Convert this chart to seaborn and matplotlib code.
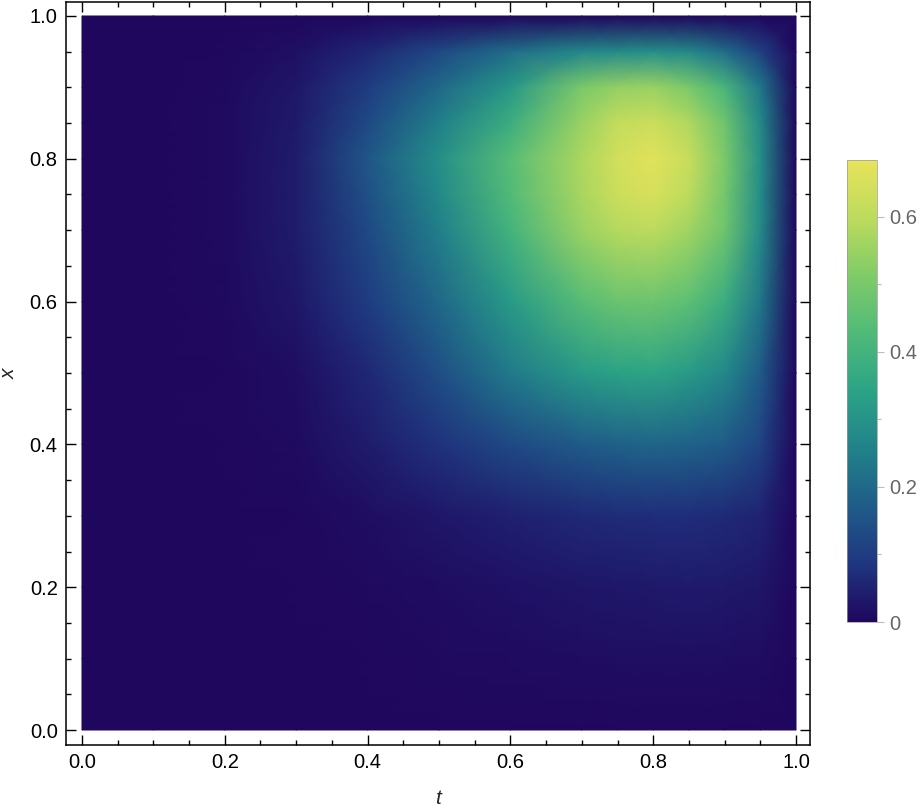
import matplotlib
matplotlib.use("Agg")
import matplotlib.pyplot as plt
import numpy as np
import seaborn as sns
from matplotlib.ticker import MultipleLocator, FixedLocator

t_vals = [0.0, 0.1, 0.2, 0.3, 0.4, 0.5, 0.6, 0.7, 0.75, 0.8, 0.85, 0.9, 0.95, 1.0]
x_vals = [0.0, 0.1, 0.2, 0.3, 0.4, 0.5, 0.6, 0.7, 0.75, 0.8, 0.85, 0.9, 0.95, 1.0]

# one row per x value, columns follow t_vals
u_x000 = [0, 0, 0, 0, 0, 0, 0, 0, 0, 0, 0, 0, 0, 0]
u_x010 = [0, 0, 0, 0.001, 0.003, 0.006, 0.010, 0.013, 0.014, 0.015, 0.015, 0.014, 0.012, 0]
u_x020 = [0, 0, 0.001, 0.003, 0.006, 0.012, 0.020, 0.028, 0.031, 0.034, 0.035, 0.034, 0.028, 0]
u_x030 = [0, 0, 0.002, 0.005, 0.015, 0.030, 0.046, 0.062, 0.067, 0.070, 0.070, 0.066, 0.052, 0]
u_x040 = [0, 0, 0.003, 0.010, 0.040, 0.080, 0.130, 0.170, 0.183, 0.190, 0.185, 0.170, 0.120, 0]
u_x050 = [0, 0.001, 0.005, 0.015, 0.060, 0.140, 0.240, 0.320, 0.340, 0.345, 0.320, 0.270, 0.170, 0]
u_x060 = [0, 0.001, 0.008, 0.030, 0.100, 0.200, 0.320, 0.440, 0.475, 0.480, 0.450, 0.380, 0.230, 0]
u_x070 = [0, 0.002, 0.010, 0.040, 0.130, 0.250, 0.400, 0.550, 0.590, 0.600, 0.560, 0.480, 0.280, 0]
u_x075 = [0, 0.002, 0.010, 0.040, 0.145, 0.275, 0.430, 0.570, 0.630, 0.650, 0.600, 0.490, 0.285, 0]
u_x080 = [0, 0.002, 0.010, 0.040, 0.160, 0.290, 0.440, 0.575, 0.640, 0.670, 0.620, 0.500, 0.290, 0]
u_x085 = [0, 0.002, 0.009, 0.036, 0.130, 0.250, 0.380, 0.550, 0.610, 0.630, 0.580, 0.480, 0.275, 0]
u_x090 = [0, 0.001, 0.008, 0.030, 0.100, 0.200, 0.310, 0.500, 0.540, 0.550, 0.500, 0.410, 0.230, 0]
u_x095 = [0, 0.001, 0.005, 0.018, 0.060, 0.130, 0.210, 0.270, 0.280, 0.290, 0.275, 0.210, 0.110, 0]
u_x100 = [0, 0, 0, 0, 0, 0, 0, 0, 0, 0, 0, 0, 0, 0]

# colours of the legend bar, bottom to top
bar_colors = ["#1f075d", "#1f3680", "#1f5c88", "#21828a", "#2ba386",
              "#50ba78", "#80cb68", "#bcdb5d", "#e8e35a"]
vmax = 0.684

sns.set_theme(style="ticks")
plt.rcParams["font.family"] = ["Liberation Sans", "DejaVu Sans"]

U = np.array([u_x000, u_x010, u_x020, u_x030, u_x040, u_x050, u_x060,
              u_x070, u_x075, u_x080, u_x085, u_x090, u_x095, u_x100])
T, X = np.meshgrid(t_vals, x_vals)
cmap = sns.blend_palette(bar_colors, as_cmap=True)

fig = plt.figure(figsize=(9.21, 8.10), dpi=100)
ax = fig.add_axes([66 / 921, 65 / 810, 744 / 921, 743 / 810])
mesh = ax.pcolormesh(T, X, U, shading="gouraud", cmap=cmap, vmin=0, vmax=vmax)

ax.set_xlim(-0.0224, 1.0196)
ax.set_ylim(-0.021, 1.0196)
ax.xaxis.set_major_locator(MultipleLocator(0.2))
ax.yaxis.set_major_locator(MultipleLocator(0.2))
ax.xaxis.set_minor_locator(MultipleLocator(0.05))
ax.yaxis.set_minor_locator(MultipleLocator(0.05))
ax.xaxis.set_major_formatter(lambda v, p: f"{v:.1f}")
ax.yaxis.set_major_formatter(lambda v, p: f"{v:.1f}")
ax.tick_params(which="both", direction="in", top=True, right=True,
               color="black", width=1.0, labelsize=14.5, labelcolor="black")
ax.tick_params(which="major", length=7.2, pad=6)
ax.tick_params(which="minor", length=3.6)
for s in ax.spines.values():
    s.set_linewidth(1.1)
    s.set_color("black")
ax.set_xlabel("t", fontsize=15, style="italic", labelpad=12)
ax.set_ylabel("x", fontsize=15, style="italic", labelpad=8)

# legend bar
cax = fig.add_axes([847 / 921, 188 / 810, 30 / 921, 462 / 810])
cbar = fig.colorbar(mesh, cax=cax)
cbar.outline.set_linewidth(0.5)
cbar.outline.set_edgecolor("#999999")
cbar.set_ticks([0, 0.2, 0.4, 0.6], labels=["0", "0.2", "0.4", "0.6"])
cax.yaxis.set_minor_locator(FixedLocator([0.1, 0.3, 0.5]))
cax.tick_params(which="both", direction="out", color="#bbbbbb", width=0.8,
                labelsize=14.5, labelcolor="#666666")
cax.tick_params(which="major", length=5, pad=4)
cax.tick_params(which="minor", length=3)

fig.savefig("out.png", dpi=100)
